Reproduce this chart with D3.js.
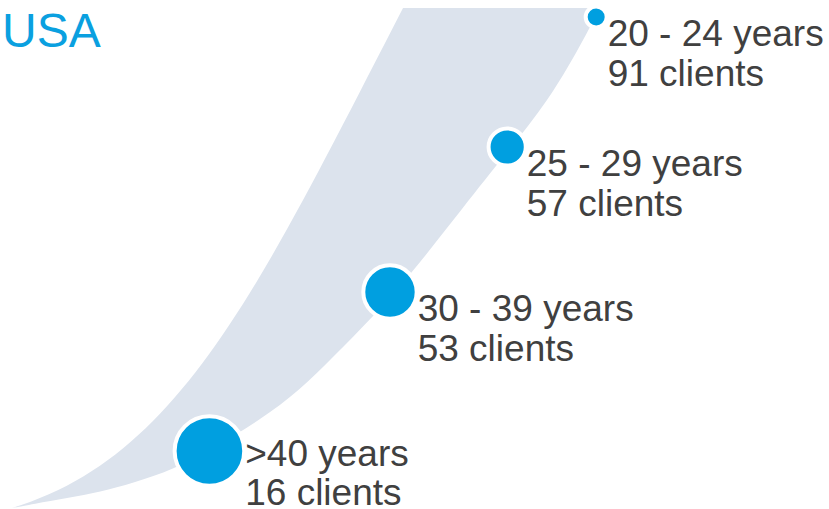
<!DOCTYPE html>
<html>
<head>
<meta charset="utf-8">
<script src="https://cdn.jsdelivr.net/npm/d3@7/dist/d3.min.js"></script>
<style>
  html, body { margin: 0; padding: 0; background: #ffffff; }
  svg { display: block; }
</style>
</head>
<body>
<svg id="chart" width="829" height="509"></svg>
<script>
// Age groups and client counts
const ageGroups = ["20 - 24 years", "25 - 29 years", "30 - 39 years", ">40 years"];
const clients = [91, 57, 53, 16];
const title = "USA";

const W = 829, H = 509;
const svg = d3.select("#chart");

// Ribbon outline in unit space: 0..1 across, 0..1 top to bottom.
// Left edge is one cubic Bezier (start, two handles, end).
const leftEdge = [[0.665, 0.000], [0.422, 0.554], [0.286, 0.900], [0.000, 1.000]];
// Right edge is a smoothed spline through these stops, top to bottom.
const rightEdge = [
  [1.000, 0.000], [0.978, 0.050], [0.915, 0.184], [0.821, 0.318],
  [0.748, 0.428], [0.680, 0.530], [0.614, 0.618], [0.546, 0.698],
  [0.490, 0.764], [0.422, 0.824], [0.345, 0.878], [0.274, 0.924],
  [0.206, 0.950], [0.150, 0.968], [0.094, 0.980], [0.036, 0.992],
  [0.000, 1.000]
];
// Vertical stop (unit space) of each bubble on the ribbon's right edge,
// and how far (px) each bubble is tucked in from that edge
const bubbleStops = [0.018, 0.278, 0.568, 0.886];
const bubbleInset = [-1, 4, 5, -2];

const x = d3.scaleLinear().domain([0, 1]).range([12, 600]);
const y = d3.scaleLinear().domain([0, 1]).range([8, 508]);

const rightLine = d3.line()
  .x(d => x(d[0]))
  .y(d => y(d[1]))
  .curve(d3.curveBasis);

const lp = leftEdge.map(d => [x(d[0]), y(d[1])]);
const outline = d3.path();
outline.moveTo(lp[0][0], lp[0][1]);
outline.bezierCurveTo(lp[1][0], lp[1][1], lp[2][0], lp[2][1], lp[3][0], lp[3][1]);

const ribbonPath = outline.toString() +
  rightLine(rightEdge.slice().reverse()).replace(/^M/, "L") + "Z";

svg.append("path")
  .attr("d", ribbonPath)
  .attr("fill", "#dce3ed");

// Sample the right edge so bubbles can sit on it
const probe = svg.append("path")
  .attr("d", rightLine(rightEdge))
  .attr("fill", "none")
  .attr("stroke", "none");
const node = probe.node();
const len = node.getTotalLength();
const samples = d3.range(0, 1001).map(k => node.getPointAtLength(len * k / 1000));
probe.remove();
function edgeXAt(py) {
  let best = samples[0];
  for (const p of samples) if (Math.abs(p.y - py) < Math.abs(best.y - py)) best = p;
  return best.x;
}

// Bubble size grows with age rank
const radius = d3.scaleLinear().domain([0, ageGroups.length - 1]).range([8.5, 32.8]);

const data = ageGroups.map((g, i) => {
  const cy = y(bubbleStops[i]);
  return { group: g, clients: clients[i], cx: edgeXAt(cy) - bubbleInset[i], cy: cy, r: radius(i) };
});

const ring = 4;
svg.selectAll("circle.bubble")
  .data(data)
  .join("circle")
  .attr("class", "bubble")
  .attr("cx", d => d.cx)
  .attr("cy", d => d.cy)
  .attr("r", d => d.r + ring / 2)
  .attr("fill", "#009fe0")
  .attr("stroke", "#ffffff")
  .attr("stroke-width", ring);

// Two-line labels to the lower right of each bubble, kept inside the frame
const fontSize = 37, lineGap = 39.5;
const labels = svg.selectAll("text.label")
  .data(data)
  .join("text")
  .attr("class", "label")
  .attr("font-family", "'Liberation Sans', Arial, sans-serif")
  .attr("font-size", fontSize)
  .attr("fill", "#404040")
  .attr("x", d => d.cx + d.r + 3)
  .attr("y", d => Math.min(d.cy + 29, H - 4 - lineGap));

labels.append("tspan").text(d => d.group);
labels.append("tspan")
  .attr("x", d => d.cx + d.r + 3)
  .attr("dy", lineGap)
  .text(d => d.clients + " clients");

svg.append("text")
  .attr("x", 2)
  .attr("y", 46.5)
  .attr("font-family", "'Liberation Sans', Arial, sans-serif")
  .attr("font-size", 48)
  .attr("fill", "#0aa0e0")
  .text(title);
</script>
</body>
</html>
